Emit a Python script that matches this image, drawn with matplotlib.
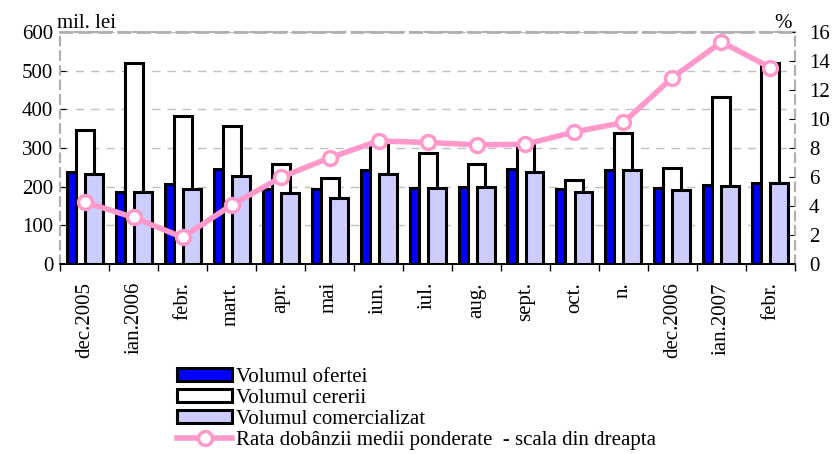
from matplotlib import pyplot as plt
from matplotlib.lines import Line2D
from matplotlib.patches import Patch
import numpy as np

plt.rcParams['font.family'] = ['Liberation Serif', 'DejaVu Serif']

# categorii (luni)
luni = ['dec.2005', 'ian.2006', 'febr.', 'mart.', 'apr.', 'mai', 'iun.', 'iul.',
        'aug.', 'sept.', 'oct.', 'n.', 'dec.2006', 'ian.2007', 'febr.']

# mil. lei
oferta = [238, 186, 206, 246, 194, 195, 244, 197, 200, 246, 195, 242, 196, 205, 209]
cerere = [346, 519, 383, 358, 259, 223, 312, 287, 258, 308, 218, 339, 249, 432, 521]
comercializat = [232, 186, 195, 228, 184, 170, 233, 196, 200, 239, 186, 242, 191, 202, 209]

# %, scala din dreapta
rata = [4.27, 3.21, 1.84, 4.06, 5.97, 7.32, 8.49, 8.38, 8.22, 8.26, 9.11, 9.76, 12.86, 15.31, 13.54]

fs = 15

fig = plt.figure(figsize=(8.35, 4.54), dpi=100)
ax = fig.add_axes([0.072, 0.4185, 0.88, 0.511])
ax2 = ax.twinx()

x = np.arange(len(luni))
w = 0.367
d = 0.184
ax.bar(x - d, oferta, w, color='#0000FF', edgecolor='black', linewidth=2.2, zorder=3)
ax.bar(x, cerere, w, color='white', edgecolor='black', linewidth=2.2, zorder=3)
ax.bar(x + d, comercializat, w, color='#CCCCFF', edgecolor='black', linewidth=2.2, zorder=3)

ax2.plot(x, rata, color='#FF99CC', linewidth=4, marker='o', markersize=10,
         markerfacecolor='white', markeredgecolor='#FF99CC', markeredgewidth=2.5, zorder=5)

ax.set_xlim(-0.5, len(luni) - 0.5)
ax.set_ylim(0, 600)
ax.set_yticks(range(0, 601, 100))
ax2.set_ylim(0, 16)
ax2.set_yticks(range(0, 17, 2))

ax.yaxis.grid(True, color='#C0C0C0', linestyle=(0, (6, 5)), linewidth=1, zorder=0)
ax.set_axisbelow(True)

for a in (ax, ax2):
    for s in ('left', 'right', 'top'):
        a.spines[s].set_color('#B0B0B0')
        a.spines[s].set_linestyle((0, (4, 3)))
        a.spines[s].set_linewidth(1.5)
    a.spines['bottom'].set_linewidth(1.2)
ax2.spines['top'].set_linewidth(2)

ax.set_xticks(x)
ax.set_xticklabels(luni, rotation=90, fontsize=fs)
ax.tick_params(axis='x', length=0, pad=13)
ax.set_xticks(np.arange(-0.5, len(luni)), minor=True)
ax.tick_params(axis='x', which='minor', length=5, width=1, direction='out')
ax.tick_params(axis='y', direction='in', length=4, labelsize=fs, pad=5)
ax2.tick_params(axis='y', direction='in', length=4, labelsize=fs, pad=10)

fig.text(0.068, 0.928, 'mil. lei', fontsize=fs, ha='left', va='bottom')
fig.text(0.938, 0.928, '%', fontsize=fs, ha='center', va='bottom')

handles = [
    Patch(facecolor='#0000FF', edgecolor='black', linewidth=2.2),
    Patch(facecolor='white', edgecolor='black', linewidth=2.2),
    Patch(facecolor='#CCCCFF', edgecolor='black', linewidth=2.2),
    Line2D([], [], color='#FF99CC', linewidth=4, marker='o', markersize=10,
           markerfacecolor='white', markeredgecolor='#FF99CC', markeredgewidth=2.5),
]
labels = ['Volumul ofertei', 'Volumul cererii', 'Volumul comercializat',
          'Rata dobânzii medii ponderate  - scala din dreapta']
fig.legend(handles, labels, loc='upper left', bbox_to_anchor=(0.212, 0.19),
           frameon=False, fontsize=fs, handlelength=2.65, handleheight=0.6,
           handletextpad=0.2, labelspacing=0.1, borderaxespad=0, borderpad=0)

fig.savefig('out.png', dpi=100)
